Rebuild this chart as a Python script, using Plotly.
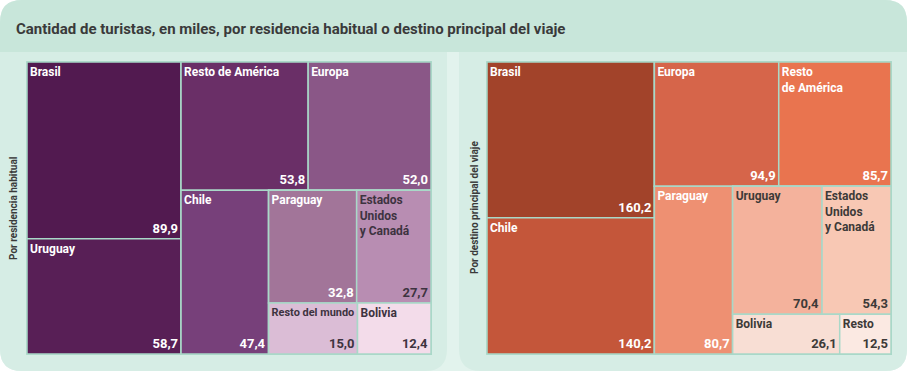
import plotly.graph_objects as go

W, H = 907, 371

# Left: por residencia habitual
res_labels = ["Brasil", "Uruguay", "Resto de América", "Europa", "Chile", "Paraguay",
              "Estados<br>Unidos<br>y Canadá", "Resto del mundo", "Bolivia"]
res_values = [89.9, 58.7, 53.8, 52.0, 47.4, 32.8, 27.7, 15.0, 12.4]
res_colors = ["#521a50", "#581f56", "#6a2f67", "#8a5787", "#77407a", "#a27599",
              "#b88db2", "#dbbdd6", "#f3dcea"]
res_text = ["white", "white", "white", "white", "white", "white",
            "#3d3340", "#3d3340", "#3d3340"]

# Right: por destino principal del viaje
des_labels = ["Brasil", "Chile", "Europa", "Resto<br>de América", "Paraguay", "Uruguay",
              "Estados<br>Unidos<br>y Canadá", "Bolivia", "Resto"]
des_values = [160.2, 140.2, 94.9, 85.7, 80.7, 70.4, 54.3, 26.1, 12.5]
des_colors = ["#a2432a", "#c4563a", "#d6654a", "#e9744f", "#ee9072", "#f4b29c",
              "#f8c8b4", "#f8ded4", "#fbe9e2"]
des_text = ["white", "white", "white", "white", "white",
            "#3d3a38", "#3d3a38", "#3d3a38", "#3d3a38"]

title = "Cantidad de turistas, en miles, por residencia habitual o destino principal del viaje"
left_axis = "Por residencia habitual"
right_axis = "Por destino principal del viaje"

FONT = "Roboto, Liberation Sans, sans-serif"
LINE = "#a9d8c8"
CLEAR = "rgba(0,0,0,0)"

# grouping of the tiles (index of leaf, or group name) -> parent group
STRUCTURE = [
    ("root", None), ("g1", "root"), (0, "g1"), (1, "g1"),
    ("g2", "root"), ("g2a", "g2"), (2, "g2a"), (3, "g2a"),
    ("g2b", "g2"), (4, "g2b"), ("g2c", "g2b"),
    ("g2d", "g2c"), (5, "g2d"), (6, "g2d"),
    ("g2e", "g2c"), (7, "g2e"), (8, "g2e"),
]


def px_x(v):
    return v / W


def px_y(v):
    return 1 - v / H


def fmt(v):
    return f"{v:.1f}".replace(".", ",")


def add_treemap(fig, side, labels, values, colors, tcolors, x0, x1, y0, y1):
    ids, parents, labs, vals, cols, tcols, ltext, vtext = [], [], [], [], [], [], [], []
    for node, par in STRUCTURE:
        if isinstance(node, int):
            ids.append(f"{side}{node}")
            labs.append(labels[node].replace("<br>", " "))
            vals.append(values[node])
            cols.append(colors[node])
            tcols.append(tcolors[node])
            ltext.append(f"<b>{labels[node]}</b>")
            vtext.append(f"<b>{fmt(values[node])}</b>")
        else:
            ids.append(f"{side}{node}")
            labs.append(" ")
            vals.append(0)
            cols.append(CLEAR)
            tcols.append(CLEAR)
            ltext.append("")
            vtext.append("")
        parents.append("" if par is None else f"{side}{par}")
    dom = dict(x=[px_x(x0), px_x(x1)], y=[px_y(y1), px_y(y0)])
    common = dict(ids=ids, labels=labs, parents=parents, values=vals, branchvalues="remainder",
                  domain=dom, sort=False, tiling=dict(pad=0, packing="slice-dice"),
                  pathbar=dict(visible=False),
                  hoverinfo="skip", root=dict(color=CLEAR))
    fig.add_trace(go.Treemap(
        **common,
        marker=dict(colors=cols, line=dict(color=LINE, width=1.5), pad=dict(t=0, l=0, r=0, b=0),
                    depthfade=False),
        text=ltext, texttemplate="%{text}", textposition="top left",
        textfont=dict(family=FONT, size=12, color=tcols),
    ))
    fig.add_trace(go.Treemap(
        **common,
        marker=dict(colors=[CLEAR] * len(ids), line=dict(color=CLEAR, width=0),
                    pad=dict(t=0, l=0, r=0, b=0), depthfade=False),
        text=vtext, texttemplate="%{text}", textposition="bottom right",
        textfont=dict(family=FONT, size=13, color=tcols),
    ))


fig = go.Figure()
add_treemap(fig, "L", res_labels, res_values, res_colors, res_text, 27, 431, 62, 354)
add_treemap(fig, "R", des_labels, des_values, des_colors, des_text, 487, 891, 62, 354)


def rrect(x0, y0, x1, y1, r, tl=True, tr=True, br=True, bl=True):
    rx, ry = r / W, r / H
    X0, X1 = px_x(x0), px_x(x1)
    Y0, Y1 = px_y(y0), px_y(y1)
    p = []
    p.append(f"M {X0 + (rx if tl else 0)} {Y0}")
    p.append(f"L {X1 - (rx if tr else 0)} {Y0}")
    if tr:
        p.append(f"Q {X1} {Y0} {X1} {Y0 - ry}")
    p.append(f"L {X1} {Y1 + (ry if br else 0)}")
    if br:
        p.append(f"Q {X1} {Y1} {X1 - rx} {Y1}")
    p.append(f"L {X0 + (rx if bl else 0)} {Y1}")
    if bl:
        p.append(f"Q {X0} {Y1} {X0} {Y1 + ry}")
    p.append(f"L {X0} {Y0 - (ry if tl else 0)}")
    if tl:
        p.append(f"Q {X0} {Y0} {X0 + rx} {Y0}")
    p.append("Z")
    return " ".join(p)


shapes = [
    dict(type="path", xref="paper", yref="paper", path=rrect(0, 0, 907, 371, 22),
         fillcolor="#e2f3ed", line=dict(width=0), layer="below"),
    dict(type="path", xref="paper", yref="paper", path=rrect(0, 40, 447, 371, 22, tl=False, tr=False),
         fillcolor="#d6ede5", line=dict(width=0), layer="below"),
    dict(type="path", xref="paper", yref="paper", path=rrect(459, 40, 907, 371, 22, tl=False, tr=False),
         fillcolor="#d6ede5", line=dict(width=0), layer="below"),
    dict(type="path", xref="paper", yref="paper", path=rrect(0, 0, 907, 52, 22, bl=False, br=False),
         fillcolor="#c8e6da", line=dict(width=0), layer="below"),
]

annotations = [
    dict(text=f"<b>{title}</b>", x=px_x(14), y=px_y(29), xref="paper", yref="paper",
         xanchor="left", yanchor="middle", showarrow=False,
         font=dict(family=FONT, size=15, color="#3a3a3a")),
    dict(text=f"<b>{left_axis}</b>", x=px_x(13), y=px_y(208), xref="paper", yref="paper",
         xanchor="center", yanchor="middle", showarrow=False, textangle=-90,
         font=dict(family=FONT, size=10, color="#3a3a3a")),
    dict(text=f"<b>{right_axis}</b>", x=px_x(474), y=px_y(208), xref="paper", yref="paper",
         xanchor="center", yanchor="middle", showarrow=False, textangle=-90,
         font=dict(family=FONT, size=10, color="#3a3a3a")),
]

fig.update_layout(
    width=W, height=H, autosize=False,
    margin=dict(l=0, r=0, t=0, b=0),
    paper_bgcolor="white",
    shapes=shapes, annotations=annotations,
    showlegend=False,
)

fig.write_html("out.html")
